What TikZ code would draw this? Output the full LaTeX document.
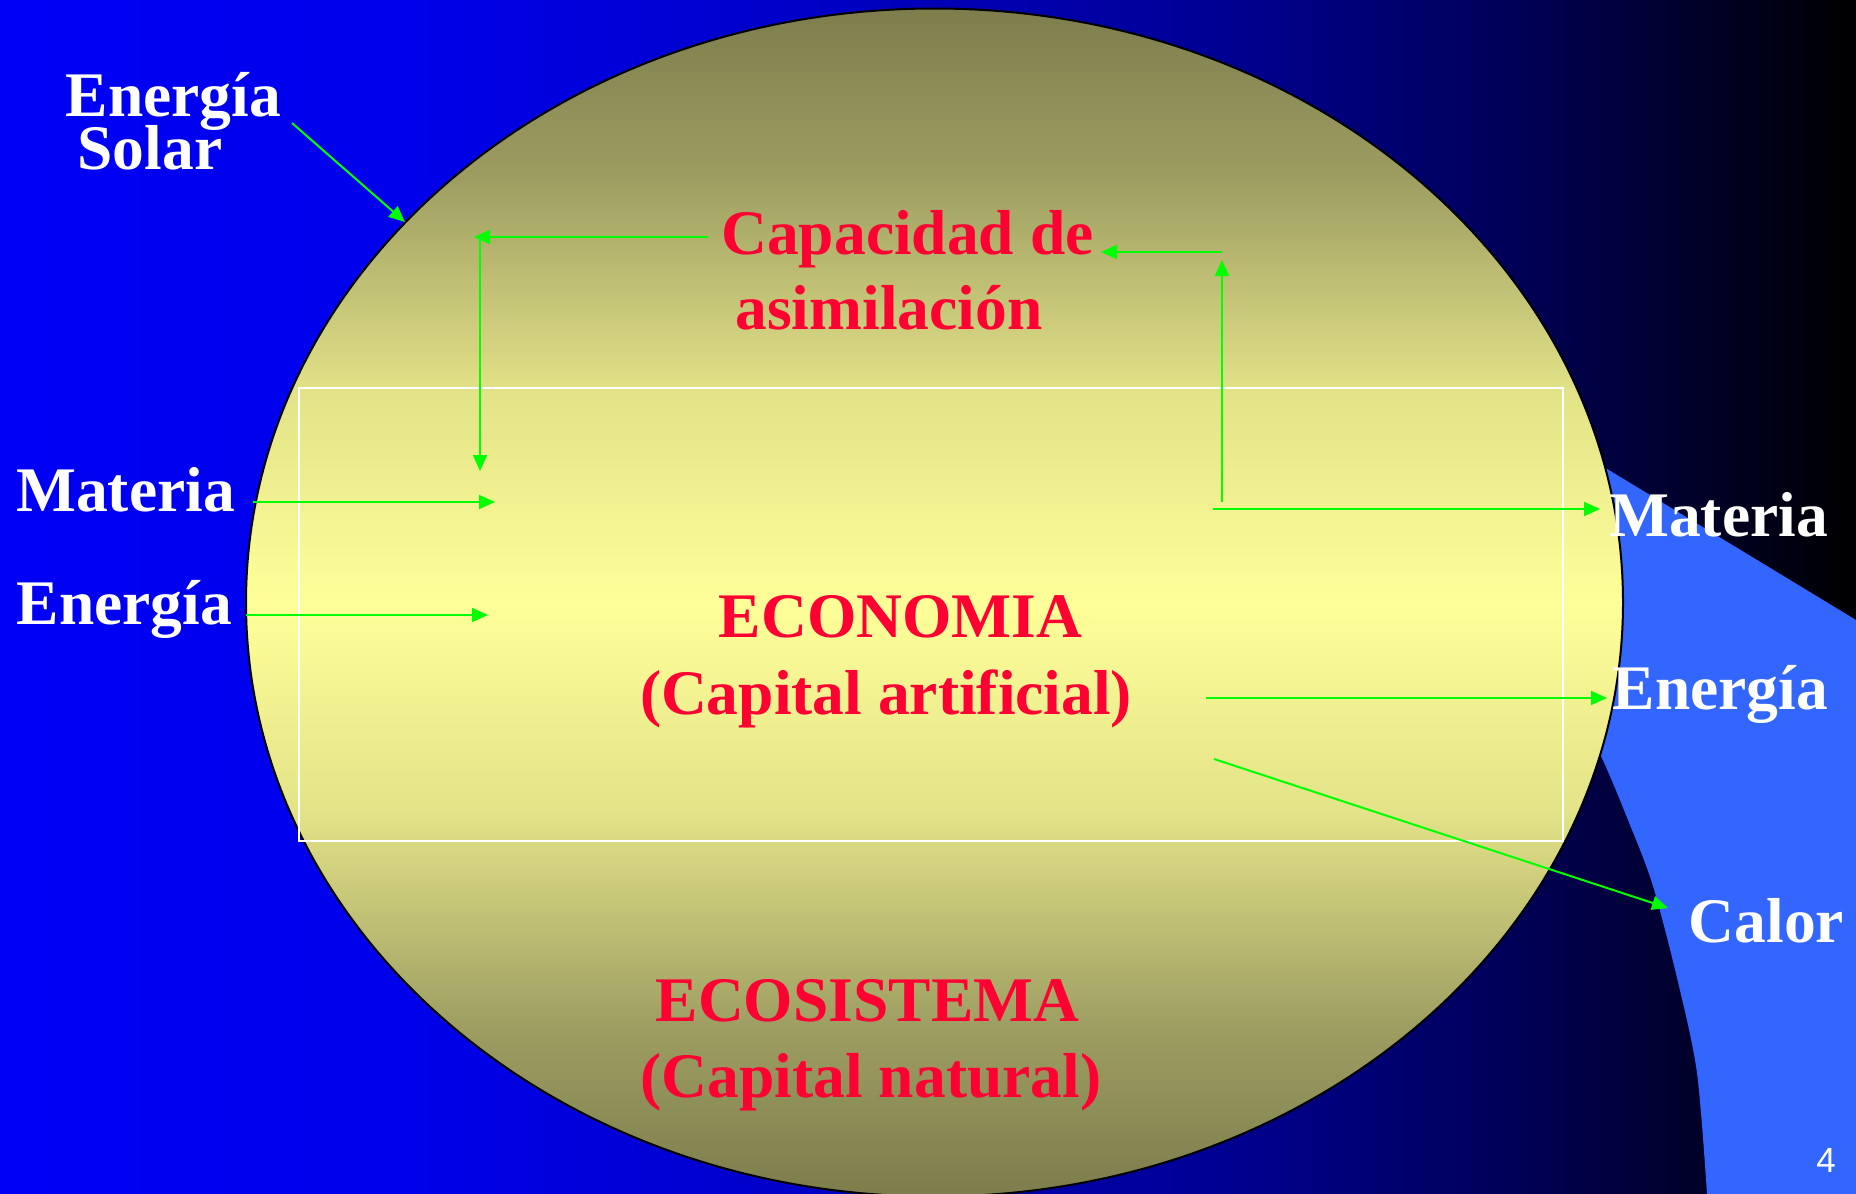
\documentclass[tikz,border=0pt]{standalone}
\usepackage{fontspec}
\setmainfont{Liberation Serif}
\newfontfamily\pagenumfont{Liberation Sans}
\usetikzlibrary{arrows.meta}
\definecolor{bgA}{RGB}{0,0,245}
\definecolor{bgB}{RGB}{0,0,235}
\definecolor{bgC}{RGB}{0,0,200}
\definecolor{bgD}{RGB}{0,0,150}
\definecolor{bgE}{RGB}{0,0,90}
\definecolor{bgF}{RGB}{0,0,40}
\definecolor{bgG}{RGB}{0,0,0}
\definecolor{lightblue}{RGB}{51,102,255}
\definecolor{olA}{RGB}{124,124,76}
\definecolor{olB}{RGB}{158,158,98}
\definecolor{olC}{RGB}{226,226,136}
\definecolor{olD}{RGB}{255,255,153}
\definecolor{redtxt}{RGB}{255,0,51}
\definecolor{flowgreen}{RGB}{0,255,0}
\begin{document}
\begin{tikzpicture}[x=1pt,y=-1pt,
  flow/.style={draw=flowgreen, line width=2pt, -{Triangle[length=16pt,width=14pt]}},
  flowline/.style={draw=flowgreen, line width=2pt},
  wlab/.style={text=white, font=\fontsize{63.5}{70}\selectfont\bfseries, inner sep=0pt, anchor=base},
  rlab/.style={text=redtxt, font=\fontsize{63.5}{70}\selectfont\bfseries, inner sep=0pt, anchor=base},
  numlab/.style={text=white, font=\pagenumfont\fontsize{35}{40}\selectfont, inner sep=0pt, anchor=base}]
\useasboundingbox (0,0) rectangle (1856,1194);
% background gradient
\shade[left color=bgA, right color=bgB] (0,0) rectangle (401,1194);
\shade[left color=bgB, right color=bgC] (400,0) rectangle (801,1194);
\shade[left color=bgC, right color=bgD] (800,0) rectangle (1201,1194);
\shade[left color=bgD, right color=bgE] (1200,0) rectangle (1501,1194);
\shade[left color=bgE, right color=bgF] (1500,0) rectangle (1701,1194);
\shade[left color=bgF, right color=bgG] (1700,0) rectangle (1856,1194);
% light blue wedge
\fill[lightblue] plot[smooth] coordinates {(1707,1194) (1697,1073) (1678,982) (1653,886) (1630,825) (1600,754) (1560,680)}
  -- (1500,404) -- (1856,620) -- (1856,1194) -- cycle;
% ellipse
\begin{scope}
\clip (934.5,602.5) ellipse [x radius=688.5pt, y radius=594pt];
\shade[top color=olA, bottom color=olB] (200,0) rectangle (1700,181);
\shade[top color=olB, bottom color=olC] (200,180) rectangle (1700,391);
\shade[top color=olC, bottom color=olD] (200,390) rectangle (1700,603);
\shade[top color=olD, bottom color=olC] (200,602) rectangle (1700,816);
\shade[top color=olC, bottom color=olB] (200,815) rectangle (1700,1026);
\shade[top color=olB, bottom color=olA] (200,1025) rectangle (1700,1200);
\end{scope}
\draw[black, line width=2pt] (934.5,602.5) ellipse [x radius=688.5pt, y radius=594pt];
% white frame
\draw[white, line width=2pt] (299,388) rectangle (1563,841);
% arrow end points
\coordinate (solS) at (292,123);
\coordinate (solE) at (405,222);
\coordinate (capLS) at (708,237);
\coordinate (capLE) at (474,237);
\coordinate (downS) at (480,237);
\coordinate (downE) at (480,471);
\coordinate (upS) at (1222,502);
\coordinate (upE) at (1222,260);
\coordinate (capRS) at (1222,252);
\coordinate (capRE) at (1101,252);
\coordinate (matLS) at (253,502);
\coordinate (matLE) at (495,502);
\coordinate (enLS) at (246,615);
\coordinate (enLE) at (488,615);
\coordinate (matRS) at (1213,509);
\coordinate (matRE) at (1600,509);
\coordinate (enRS) at (1206,698);
\coordinate (enRE) at (1607,698);
\coordinate (calS) at (1214,759);
\coordinate (calE) at (1668,908);
% arrows
\draw[flow] (solS) -- (solE);
\draw[flow] (capLS) -- (capLE);
\draw[flow] (downS) -- (downE);
\draw[flow] (upS) -- (upE);
\draw[flow] (capRS) -- (capRE);
\draw[flow] (matLS) -- (matLE);
\draw[flow] (enLS) -- (enLE);
\draw[flow] (matRS) -- (matRE);
\draw[flow] (enRS) -- (enRE);
\draw[flow] (calS) -- (calE);
% labels
\node[wlab] (solarA) at (173.5,116) {Energía};
\node[wlab] (solarB) at (150,169) {Solar};
\node[wlab] (matL) at (125.5,511) {Materia};
\node[wlab] (enL) at (124.5,624) {Energía};
\node[wlab] (matR) at (1718.5,536) {Materia};
\node[wlab] (enR) at (1720.5,709) {Energía};
\node[wlab] (calor) at (1766.5,942) {Calor};
\node[rlab] (cap1) at (907.5,254) {Capacidad de};
\node[rlab] (cap2) at (889,329) {asimilación};
\node[rlab] (eco1) at (900.5,637) {ECONOMIA};
\node[rlab] (eco2) at (886,714) {(Capital artificial)};
\node[rlab] (eso1) at (867.5,1021) {ECOSISTEMA};
\node[rlab] (eso2) at (871,1097) {(Capital natural)};
\node[numlab] (pg) at (1826,1172) {4};
\end{tikzpicture}
\end{document}
